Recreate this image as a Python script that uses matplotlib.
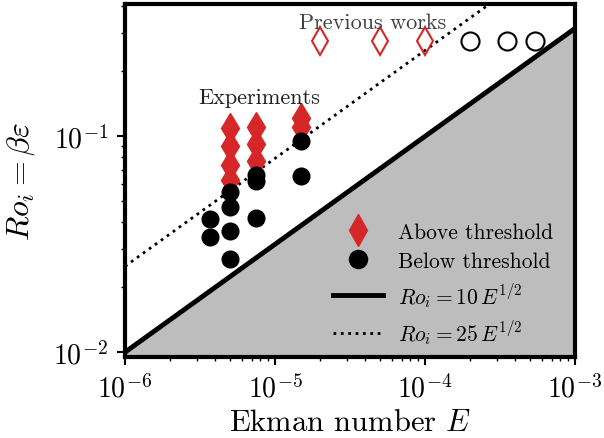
import numpy as np
import matplotlib
matplotlib.use("Agg")
import matplotlib.pyplot as plt
from matplotlib.lines import Line2D

plt.rcParams['font.family'] = 'serif'
plt.rcParams['font.serif'] = ['cmr10', 'DejaVu Serif']
plt.rcParams['mathtext.fontset'] = 'cm'
plt.rcParams['axes.formatter.use_mathtext'] = True

# experiments, above threshold (red diamonds)
above_E = [5e-6, 5e-6, 5e-6, 5e-6, 7.5e-6, 7.5e-6, 7.5e-6, 1.5e-5, 1.5e-5]
above_Ro = [0.109, 0.090, 0.074, 0.063, 0.110, 0.092, 0.077, 0.122, 0.111]

# experiments, below threshold (black circles)
below_E = [3.7e-6, 3.7e-6, 5e-6, 5e-6, 5e-6, 5e-6, 7.5e-6, 7.5e-6, 7.5e-6, 1.5e-5, 1.5e-5]
below_Ro = [0.0413, 0.0341, 0.0551, 0.0469, 0.0363, 0.027, 0.066, 0.062, 0.0418, 0.0948, 0.0653]

# previous works
prev_above_E = [2e-5, 5e-5, 1e-4]
prev_above_Ro = [0.275, 0.275, 0.275]
prev_below_E = [2e-4, 3.5e-4, 5.4e-4]
prev_below_Ro = [0.275, 0.275, 0.275]

red = '#d62728'

fig = plt.figure(figsize=(6.04, 4.39), dpi=100)
ax = fig.add_axes([0.207, 0.1845, 0.745, 0.804])

E = np.logspace(-6, -3, 200)
ax.fill_between(E, 1e-3, 10 * np.sqrt(E), color='#bdbdbd', lw=0)
ax.plot(E, 10 * np.sqrt(E), 'k-', lw=3.5)
ax.plot(E, 25 * np.sqrt(E), 'k:', lw=2)

ax.plot(above_E, above_Ro, 'd', color=red, ms=15, mec=red, ls='none')
ax.plot(below_E, below_Ro, 'o', color='k', ms=12, ls='none')
ax.plot(prev_above_E, prev_above_Ro, 'd', mfc='none', mec=red, mew=1.5, ms=14, ls='none')
ax.plot(prev_below_E, prev_below_Ro, 'o', mfc='none', mec='k', mew=1.5, ms=13, ls='none')

ax.text(4.5e-5, 0.337, 'Previous works', fontsize=16, color='#404040', ha='center', va='center')
ax.text(7.8e-6, 0.151, 'Experiments', fontsize=16, color='#202020', ha='center', va='center')

ax.set_xscale('log')
ax.set_yscale('log')
ax.set_xlim(1e-6, 1e-3)
ax.set_ylim(0.0095, 0.41)
ax.set_xlabel(r'Ekman number $E$', fontsize=22, labelpad=4)
ax.set_ylabel(r'$Ro_i = \beta\varepsilon$', fontsize=23, labelpad=12)
ax.tick_params(labelsize=20, width=1.5, length=6, pad=6)
ax.tick_params(which='minor', width=1, length=3)
for s in ax.spines.values():
    s.set_linewidth(3)

handles = [
    Line2D([], [], marker='d', color=red, ms=16, ls='none'),
    Line2D([], [], marker='o', color='k', ms=13, ls='none'),
    Line2D([], [], color='k', lw=3.5),
    Line2D([], [], color='k', ls=':', lw=2),
]
labels = ['Above threshold', 'Below threshold',
          r'$Ro_i = 10\,E^{1/2}$', r'$Ro_i = 25\,E^{1/2}$']
ax.legend(handles, labels, loc='lower right', frameon=False, fontsize=15.5,
          labelspacing=0.45, handlelength=2.3, handletextpad=0.7,
          borderaxespad=0.2, bbox_to_anchor=(0.98, -0.006))

fig.savefig('out.png', dpi=100)
